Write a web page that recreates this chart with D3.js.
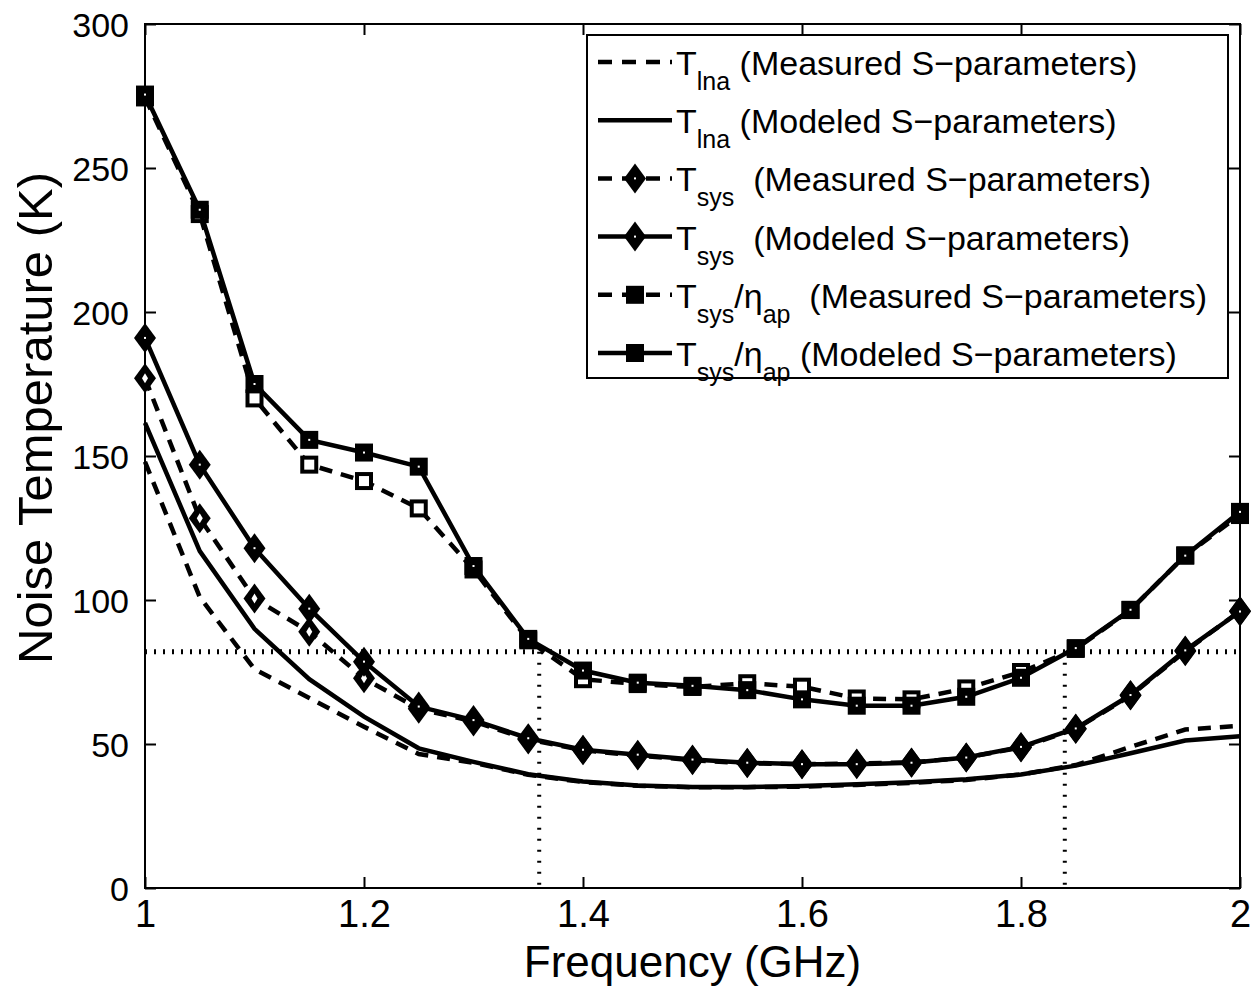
<!DOCTYPE html>
<html>
<head>
<meta charset="utf-8">
<script src="https://cdn.jsdelivr.net/npm/d3@7"></script>
<style>
  body { margin: 0; background: #fff; }
  text { font-family: "Liberation Sans", Arial, sans-serif; fill: #000; }
</style>
</head>
<body>
<svg id="noise" width="1251" height="987"></svg>
<script>
// data (frequency in GHz, noise temperature in K)
var freqs = [1.00, 1.05, 1.10, 1.15, 1.20, 1.25, 1.30, 1.35, 1.40, 1.45, 1.50,
             1.55, 1.60, 1.65, 1.70, 1.75, 1.80, 1.85, 1.90, 1.95, 2.00];

var lnaMeasured = [148, 101, 76, 66, 56, 46.5, 43.5, 39.3, 36.8, 35.5, 35, 35, 35.2, 35.8, 36.5, 37.5, 39.4, 42.7, 49, 55, 56.3];
var lnaModeled  = [161.5, 117, 90, 72.5, 59.5, 48.5, 43.8, 39.5, 37, 35.6, 35.1, 35.1, 35.4, 36, 36.7, 37.8, 39.4, 42.5, 46.8, 51.2, 52.7];

var sysMeasured = [177, 128.4, 100.5, 89, 72.8, 62.2, 57.8, 51.6, 47.8, 46, 44.4, 43.3, 43, 43.2, 43.6, 45.3, 48.8, 55.2, 66.8, 82.2, 96.2];
var sysModeled  = [191, 147, 118, 97, 78.6, 63, 58.3, 52, 48, 46.3, 44.6, 43.5, 43, 43, 43.5, 45.3, 49, 55.4, 67, 82.5, 96];

var apMeasured = [274.5, 234, 170, 147, 141.3, 131.8, 110.6, 86, 72.5, 70.8, 69.8, 71.1, 69.9, 65.8, 65.5, 69.3, 75, 83, 96.5, 115.5, 129.5];
var apModeled  = [275.5, 235.5, 175, 155.6, 151.2, 146.3, 111.8, 86.5, 75.5, 71.3, 70.2, 68.7, 65.5, 63.3, 63.3, 66.4, 73, 83.3, 96.6, 115.4, 130.6];

// 82 K reference and the band edges where T_sys/eta_ap crosses it
var refLevel = 82;
var bandEdges = [1.36, 1.84];

var xTicks = [1, 1.2, 1.4, 1.6, 1.8, 2];
var yTicks = [0, 50, 100, 150, 200, 250, 300];

var series = [
  {sub: "lna", values: lnaMeasured, dashed: true,  marker: null,      label: " (Measured S\u2212parameters)"},
  {sub: "lna", values: lnaModeled,  dashed: false, marker: null,      label: " (Modeled S\u2212parameters)"},
  {sub: "sys", values: sysMeasured, dashed: true,  marker: "diamond", label: "  (Measured S\u2212parameters)"},
  {sub: "sys", values: sysModeled,  dashed: false, marker: "diamond", label: "  (Modeled S\u2212parameters)"},
  {sub: "sys", values: apMeasured,  dashed: true,  marker: "square",  label: "  (Measured S\u2212parameters)", eta: true},
  {sub: "sys", values: apModeled,   dashed: false, marker: "square",  label: " (Modeled S\u2212parameters)", eta: true}
];

var chart = {};
chart.margins = {top: 24, bottom: 99, left: 145, right: 11};
chart.svg = d3.select("#noise");
chart.width = 1251 - chart.margins.left - chart.margins.right;
chart.height = 987 - chart.margins.top - chart.margins.bottom;

chart.x = d3.scaleLinear().domain([1, 2]).range([chart.margins.left, chart.margins.left + chart.width]);
chart.y = d3.scaleLinear().domain([0, 300]).range([chart.margins.top + chart.height, chart.margins.top]);

var x = chart.x, y = chart.y, svg = chart.svg;
var x0 = x.range()[0], x1 = x.range()[1], y0 = y.range()[0], y1 = y.range()[1];

svg.append("rect").attr("width", 1251).attr("height", 987).attr("fill", "#fff");

// axes (ticks inside, MATLAB box style)
function styleAxis(g) {
  g.select(".domain").remove();
  g.selectAll(".tick line").attr("stroke", "#000").attr("stroke-width", 2);
}

svg.append("g")
    .attr("transform", "translate(0," + y0 + ")")
    .call(d3.axisBottom(x).tickValues(xTicks).tickSizeInner(-11).tickSizeOuter(0).tickPadding(12).tickFormat(d3.format("~g")))
    .call(styleAxis)
    .selectAll("text").attr("font-size", 38).attr("dy", "0.71em");

svg.append("g")
    .attr("transform", "translate(0," + y1 + ")")
    .call(d3.axisTop(x).tickValues(xTicks).tickSizeInner(-11).tickSizeOuter(0).tickFormat(""))
    .call(styleAxis);

svg.append("g")
    .attr("transform", "translate(" + x0 + ",0)")
    .call(d3.axisLeft(y).tickValues(yTicks).tickSizeInner(-11).tickSizeOuter(0).tickPadding(16))
    .call(styleAxis)
    .selectAll("text").attr("font-size", 34).attr("dy", "0.36em");

svg.append("g")
    .attr("transform", "translate(" + x1 + ",0)")
    .call(d3.axisRight(y).tickValues(yTicks).tickSizeInner(-11).tickSizeOuter(0).tickFormat(""))
    .call(styleAxis);

svg.append("rect")
    .attr("x", x0).attr("y", y1)
    .attr("width", x1 - x0).attr("height", y0 - y1)
    .attr("fill", "none").attr("stroke", "#000").attr("stroke-width", 2);

// axis titles
svg.append("text")
    .attr("x", (x0 + x1) / 2).attr("y", 977)
    .attr("text-anchor", "middle")
    .attr("font-size", 44)
    .text("Frequency (GHz)");

svg.append("text")
    .attr("transform", "translate(52,418) rotate(-90)")
    .attr("text-anchor", "middle")
    .attr("font-size", 49)
    .text("Noise Temperature (K)");

// dotted reference lines
svg.append("line")
    .attr("x1", x0).attr("x2", x1)
    .attr("y1", y(refLevel)).attr("y2", y(refLevel))
    .attr("stroke", "#000").attr("stroke-width", 5).attr("stroke-dasharray", "2,7");

bandEdges.forEach(function(f) {
  svg.append("line")
      .attr("x1", x(f)).attr("x2", x(f))
      .attr("y1", y(refLevel)).attr("y2", y0)
      .attr("stroke", "#000").attr("stroke-width", 4).attr("stroke-dasharray", "2,9");
});

// markers
function drawMarker(g, kind, cx, cy, measured) {
  if (kind === "square") {
    if (measured) {
      g.append("rect").attr("x", cx - 7).attr("y", cy - 7).attr("width", 14).attr("height", 14)
          .attr("fill", "#fff").attr("stroke", "#000").attr("stroke-width", 4);
    } else {
      g.append("rect").attr("x", cx - 9).attr("y", cy - 9).attr("width", 18).attr("height", 18)
          .attr("fill", "#000");
      g.append("rect").attr("x", cx - 1).attr("y", cy - 1).attr("width", 2).attr("height", 2).attr("fill", "#fff");
    }
  } else if (kind === "diamond") {
    var w = 11, h = 15;
    var pts = [[cx, cy - h], [cx + w, cy], [cx, cy + h], [cx - w, cy]].join(" ");
    g.append("polygon").attr("points", pts).attr("fill", "#000");
    if (measured) {
      var inner = [[cx, cy - 5], [cx + 3, cy], [cx, cy + 5], [cx - 3, cy]].join(" ");
      g.append("polygon").attr("points", inner).attr("fill", "#fff");
    } else {
      g.append("rect").attr("x", cx - 1).attr("y", cy - 1).attr("width", 2).attr("height", 2).attr("fill", "#fff");
    }
  }
}

var line = d3.line()
    .x(function(d, i) { return x(freqs[i]); })
    .y(function(d) { return y(d); });

series.forEach(function(s) {
  var g = svg.append("g");
  g.append("path")
      .datum(s.values)
      .attr("d", line)
      .attr("fill", "none")
      .attr("stroke", "#000")
      .attr("stroke-width", 4.5)
      .attr("stroke-dasharray", s.dashed ? "13,9" : null);
  if (s.marker) {
    s.values.forEach(function(v, i) {
      drawMarker(g, s.marker, x(freqs[i]), y(v), s.dashed);
    });
  }
});

// legend
var legend = svg.append("g");
legend.append("rect")
    .attr("x", 587).attr("y", 35).attr("width", 641).attr("height", 343)
    .attr("fill", "#fff").attr("stroke", "#000").attr("stroke-width", 2);

series.forEach(function(s, i) {
  var cy = 62 + i * 58.2;
  legend.append("line")
      .attr("x1", 598).attr("x2", 672).attr("y1", cy).attr("y2", cy)
      .attr("stroke", "#000").attr("stroke-width", 4.5)
      .attr("stroke-dasharray", s.dashed ? "14,10" : null);
  if (s.marker) {
    var lm = legend.append("g");
    if (s.marker === "square") {
      lm.append("rect").attr("x", 626).attr("y", cy - 9).attr("width", 18).attr("height", 18).attr("fill", "#000");
    } else {
      drawMarker(lm, "diamond", 635, cy, false);
    }
  }
  var t = legend.append("text")
      .attr("x", 676).attr("y", cy + 13)
      .attr("font-size", 34)
      .style("white-space", "pre");
  t.append("tspan").text("T");
  t.append("tspan").attr("font-size", 25).attr("dy", 15).text(s.sub);
  if (s.eta) {
    t.append("tspan").attr("dy", -15).text("/\u03b7");
    t.append("tspan").attr("font-size", 25).attr("dy", 15).text("ap");
  }
  t.append("tspan").attr("dy", -15).text(s.label);
});
</script>
</body>
</html>
